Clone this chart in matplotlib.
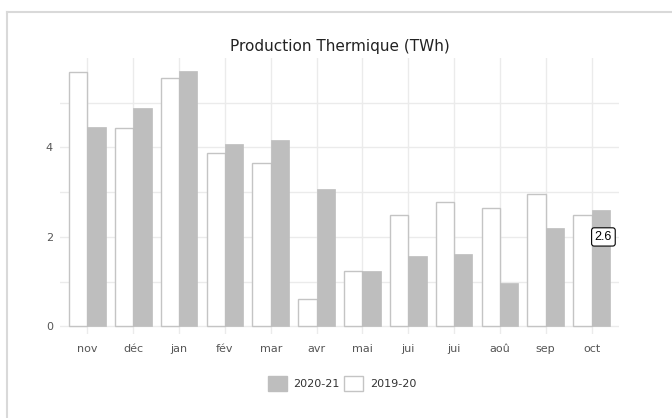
import numpy as np
import matplotlib
matplotlib.use("Agg")
import matplotlib.pyplot as plt
from matplotlib.patches import Patch
from matplotlib.lines import Line2D

# Données (TWh)
mois = ['nov', 'déc', 'jan', 'fév', 'mar', 'avr', 'mai', 'jui', 'jui', 'aoû', 'sep', 'oct']
prod_2019_20 = [5.68, 4.43, 5.55, 3.88, 3.66, 0.61, 1.24, 2.50, 2.77, 2.65, 2.96, 2.48]
prod_2020_21 = [4.45, 4.89, 5.72, 4.07, 4.16, 3.07, 1.24, 1.57, 1.61, 0.96, 2.20, 2.60]

gris = '#bebebe'
grille = '#ebebeb'

fig = plt.figure(figsize=(6.72, 4.18), dpi=100)
ax = fig.add_axes([60/672, 1-334/418, (619-60)/672, (334-58)/418])

x = np.arange(len(mois))
w = 0.4
ax.bar(x - w/2, prod_2019_20, width=w, color='white', edgecolor='#c4c4c4', linewidth=1.0, zorder=3)
ax.bar(x + w/2, prod_2020_21, width=w, color=gris, edgecolor=gris, linewidth=0.5, zorder=3)

ax.set_xlim(-0.6, 11.6)
ax.set_ylim(-0.17, 6.0)
ax.set_xticks(x)
ax.set_xticklabels(mois)
ax.set_yticks([0, 2, 4])
ax.set_yticks([1, 3, 5], minor=True)
ax.grid(True, which='both', color=grille, linewidth=1.0, zorder=0)
ax.tick_params(which='both', length=0, labelsize=8, colors='#555555')
ax.tick_params(axis='x', pad=7)
ax.tick_params(axis='y', pad=5)
for s in ax.spines.values():
    s.set_visible(False)

ax.set_title('Production Thermique (TWh)', fontsize=11, color='#222222', pad=5)

# étiquette de survol
ax.text(11 + w/2 + 0.06, 2.0, '2.6', fontsize=9, family='Liberation Sans', ha='center', va='center',
        zorder=5, bbox=dict(boxstyle='round,pad=0.25,rounding_size=0.2', fc='white', ec='black', lw=0.8))

handles = [Patch(facecolor=gris, edgecolor=gris, label='2020-21'),
           Patch(facecolor='white', edgecolor='#c4c4c4', label='2019-20')]
fig.legend(handles=handles, loc='center', bbox_to_anchor=(342/672, 1-383/418), ncol=2, frameon=False,
           fontsize=8, handlelength=1.7, handleheight=1.7, handletextpad=0.6, columnspacing=0.4,
           labelcolor='#333333')

# cadre
fig.add_artist(Line2D([7/672, 7/672], [0, 1-12/418], color='#d9d9d9', lw=1.5, transform=fig.transFigure))
fig.add_artist(Line2D([7/672, 1], [1-12/418, 1-12/418], color='#d9d9d9', lw=1.5, transform=fig.transFigure))

fig.savefig('out.png', dpi=100)
